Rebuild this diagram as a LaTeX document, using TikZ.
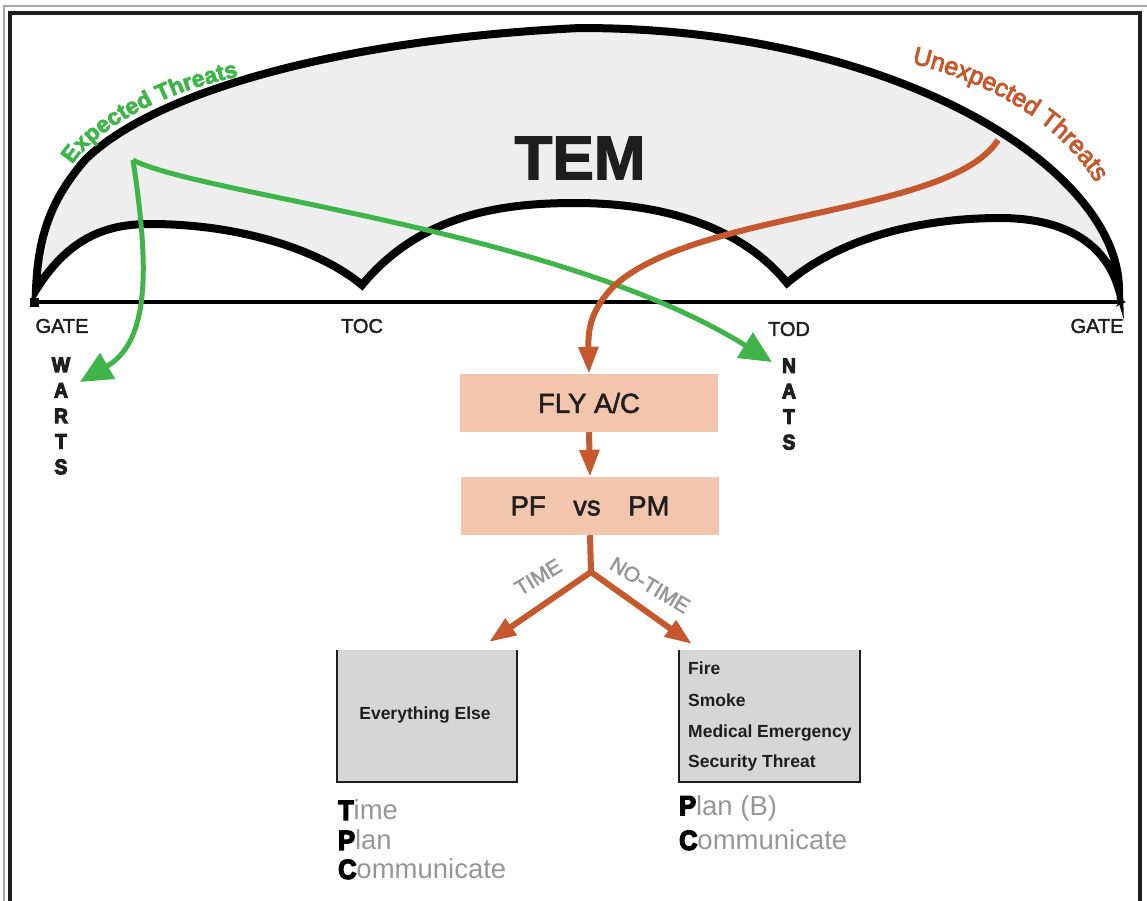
\documentclass[tikz,border=0pt]{standalone}
\usepackage{fontspec}
\setmainfont{Liberation Sans}
\setsansfont{Liberation Sans}
\newfontfamily\heavyfont[UprightFont={* Bold},FakeBold=5,FakeStretch=0.92]{Liberation Sans}
\newfontfamily\boldfont[UprightFont={* Bold}]{Liberation Sans}
\newfontfamily\thickfont[UprightFont={* Bold},FakeBold=3]{Liberation Sans}
\newfontfamily\temfont[UprightFont={* Bold},FakeBold=2]{Liberation Sans}
\newfontfamily\medfont[FakeBold=2]{Liberation Sans}
\newfontfamily\semifont[FakeBold=3.5]{Liberation Sans}
\usetikzlibrary{arrows.meta,decorations.markings}
\definecolor{tgreen}{RGB}{63,181,73}
\definecolor{torange}{RGB}{197,88,44}
\definecolor{peach}{RGB}{242,197,172}
\definecolor{archfill}{RGB}{238,238,238}
\definecolor{boxgray}{RGB}{214,214,214}
\definecolor{txtgray}{RGB}{150,150,150}
\definecolor{inkdark}{RGB}{30,30,30}
\newcommand{\fsz}[1]{\fontsize{#1}{#1}\selectfont}
\newcommand{\ini}[1]{\textcolor{black}{\heavyfont #1}}
\begin{document}
\begin{tikzpicture}[x=1pt,y=-1pt,
  garrow/.style={draw=tgreen,line width=5pt,-{Triangle[length=32pt,width=29pt]}},
  oarrow/.style={draw=torange,line width=6pt,-{Triangle[length=27pt,width=19pt]}},
  oline/.style={draw=torange,line width=6pt},
  peachbox/.style={fill=peach,minimum width=258pt,minimum height=58pt,inner sep=0pt,text=inkdark,font=\medfont\fsz{27.5}},
  graybox/.style={fill=boxgray,minimum width=180pt,minimum height=132pt,inner sep=0pt},
  axislabel/.style={text=inkdark,font=\medfont\fsz{20},inner sep=0pt},
  vword/.style={text=inkdark,font=\heavyfont\fontsize{21}{25.5}\selectfont,align=center,inner sep=0pt},
  itemtext/.style={text=inkdark,font=\boldfont\fsz{17.5},anchor=west,inner sep=0pt},
  acro/.style={font=\fsz{27.5},anchor=west,inner sep=0pt,text=txtgray},
  branchlabel/.style={text=txtgray,font=\medfont\fsz{21},inner sep=0pt},
  gchar/.style={anchor=base west,inner sep=0pt,outer sep=0pt,transform shape,font=\thickfont\fsz{23},text=tgreen},
  uchar/.style={anchor=base west,inner sep=0pt,outer sep=0pt,transform shape,font=\semifont\fsz{25},text=torange}
]
\useasboundingbox (0,0) rectangle (1147,900);
% frames
\draw[line width=1.2pt,draw=black!35] (4,905) -- (4,6) -- (1150,6);
\draw[line width=4pt,draw=inkdark] (10,905) -- (10,13) -- (1140,13) -- (1140,905);
% arch
\draw[line width=8pt,fill=archfill,draw=black,line join=miter]
  (36,290) .. controls (38,230) and (55,195) .. (85,160)
  .. controls (150,95) and (330,40) .. (580,28)
  .. controls (900,28) and (1119,170) .. (1119,290)
  .. controls (1105,240) and (1060,218) .. (1000,218)
  .. controls (940,218) and (850,230) .. (787,283)
  .. controls (740,225) and (660,203) .. (575,203)
  .. controls (500,203) and (420,215) .. (362,285)
  .. controls (320,250) and (240,224) .. (150,224)
  .. controls (110,224) and (70,235) .. (36,290) -- cycle;
\node[font=\temfont\fsz{62},text=inkdark,inner sep=0pt] (tem) at (580,158) {TEM};
% curved titles (letters placed along a path)
\path[decoration={markings,
  mark=at position 2pt with {\node[gchar]{E};},
  mark=at position 17.34pt with {\node[gchar]{x};},
  mark=at position 30.13pt with {\node[gchar]{p};},
  mark=at position 44.18pt with {\node[gchar]{e};},
  mark=at position 56.97pt with {\node[gchar]{c};},
  mark=at position 69.76pt with {\node[gchar]{t};},
  mark=at position 77.42pt with {\node[gchar]{e};},
  mark=at position 90.21pt with {\node[gchar]{d};},
  mark=at position 110.65pt with {\node[gchar]{T};},
  mark=at position 124.7pt with {\node[gchar]{h};},
  mark=at position 138.75pt with {\node[gchar]{r};},
  mark=at position 147.7pt with {\node[gchar]{e};},
  mark=at position 160.49pt with {\node[gchar]{a};},
  mark=at position 173.28pt with {\node[gchar]{t};},
  mark=at position 180.94pt with {\node[gchar]{s};}},
  decorate] (71,166) .. controls (100,126) and (165,90) .. (251,74);
\path[decoration={markings,
  mark=at position 6pt with {\node[uchar]{U};},
  mark=at position 24.05pt with {\node[uchar]{n};},
  mark=at position 37.95pt with {\node[uchar]{e};},
  mark=at position 51.85pt with {\node[uchar]{x};},
  mark=at position 64.35pt with {\node[uchar]{p};},
  mark=at position 78.24pt with {\node[uchar]{e};},
  mark=at position 92.14pt with {\node[uchar]{c};},
  mark=at position 104.64pt with {\node[uchar]{t};},
  mark=at position 111.58pt with {\node[uchar]{e};},
  mark=at position 125.48pt with {\node[uchar]{d};},
  mark=at position 146.32pt with {\node[uchar]{T};},
  mark=at position 161.59pt with {\node[uchar]{h};},
  mark=at position 175.49pt with {\node[uchar]{r};},
  mark=at position 183.82pt with {\node[uchar]{e};},
  mark=at position 197.72pt with {\node[uchar]{a};},
  mark=at position 211.61pt with {\node[uchar]{t};},
  mark=at position 218.56pt with {\node[uchar]{s};}},
  decorate] (906,62) .. controls (990,82) and (1064,122) .. (1106,200);
% timeline
\node[fill=black,minimum size=9pt,inner sep=0pt] (tl0) at (34,302) {};
\coordinate (tl1) at (1126,302);
\draw[line width=3.5pt,-{Stealth[length=10pt,width=9pt]}] (tl0.center) -- (tl1);
\node[axislabel] (gate1) at (62,326) {GATE};
\node[axislabel] (toc) at (362,326) {TOC};
\node[axislabel] (tod) at (789,329) {TOD};
\node[axislabel] (gate2) at (1097,326) {GATE};
% vertical words
\node[vword] (warts) at (61,416) {W\\A\\R\\T\\S};
\node[vword] (nats) at (789,404) {N\\A\\T\\S};
% green threat arrows
\coordinate (gsrc) at (133,160);
\coordinate (gw) at (80,382);
\coordinate (gn) at (772,362);
\draw[garrow] (gsrc) .. controls (148,260) and (152,340) .. (gw);
\draw[garrow] (gsrc) .. controls (200,195) and (560,230) .. (gn);
% boxes
\node[peachbox] (fly) at (589,403) {FLY A/C};
\node[peachbox] (pf) at (590,506) {PF\hspace{1em}vs\hspace{1em}PM};
% orange threat arrow
\coordinate (usrc) at (998,140);
\coordinate (ubend) at (615,285);
\draw[oarrow] (usrc) .. controls (950,215) and (700,210) .. (ubend)
  .. controls (590,310) and (588,330) .. (fly.north);
\draw[oarrow] (fly.south) -- (pf.north);
% fork
\coordinate (fork) at (591,572);
\coordinate (ltip) at (489,642);
\coordinate (rtip) at (692,644);
\draw[oline] (pf.south) -- (fork);
\draw[oarrow,shorten <=-1.5pt] (fork) -- (ltip);
\draw[oarrow,shorten <=-1.5pt] (fork) -- (rtip);
\node[branchlabel,rotate=31] (timelab) at (538,577) {TIME};
\node[branchlabel,rotate=-31] (notimelab) at (650,585) {NO-TIME};
% gray boxes
\node[graybox] (lbox) at (427,716) {};
\draw[line width=2.5pt,draw=inkdark] (lbox.north west) -- (lbox.south west) -- (lbox.south east) -- (lbox.north east);
\node[text=inkdark,font=\boldfont\fsz{17.5},inner sep=0pt] (lboxtext) at (425,715) {Everything Else};
\node[graybox,minimum width=181pt] (rbox) at (769.5,716) {};
\draw[line width=2.5pt,draw=inkdark] (rbox.north west) -- (rbox.south west) -- (rbox.south east) -- (rbox.north east);
\node[itemtext] (fire) at (688,668) {Fire};
\node[itemtext] (smoke) at (688,700) {Smoke};
\node[itemtext] (medic) at (688,733) {Medical Emergency};
\node[itemtext] (secur) at (688,763) {Security Threat};
% acronyms
\node[acro] (t1) at (338,810) {\ini{T}ime};
\node[acro] (t2) at (338,840) {\ini{P}lan};
\node[acro] (t3) at (338,869) {\ini{C}ommunicate};
\node[acro] (p1) at (679,808) {\ini{P}lan (B)};
\node[acro] (p2) at (679,840) {\ini{C}ommunicate};
\end{tikzpicture}
\end{document}
